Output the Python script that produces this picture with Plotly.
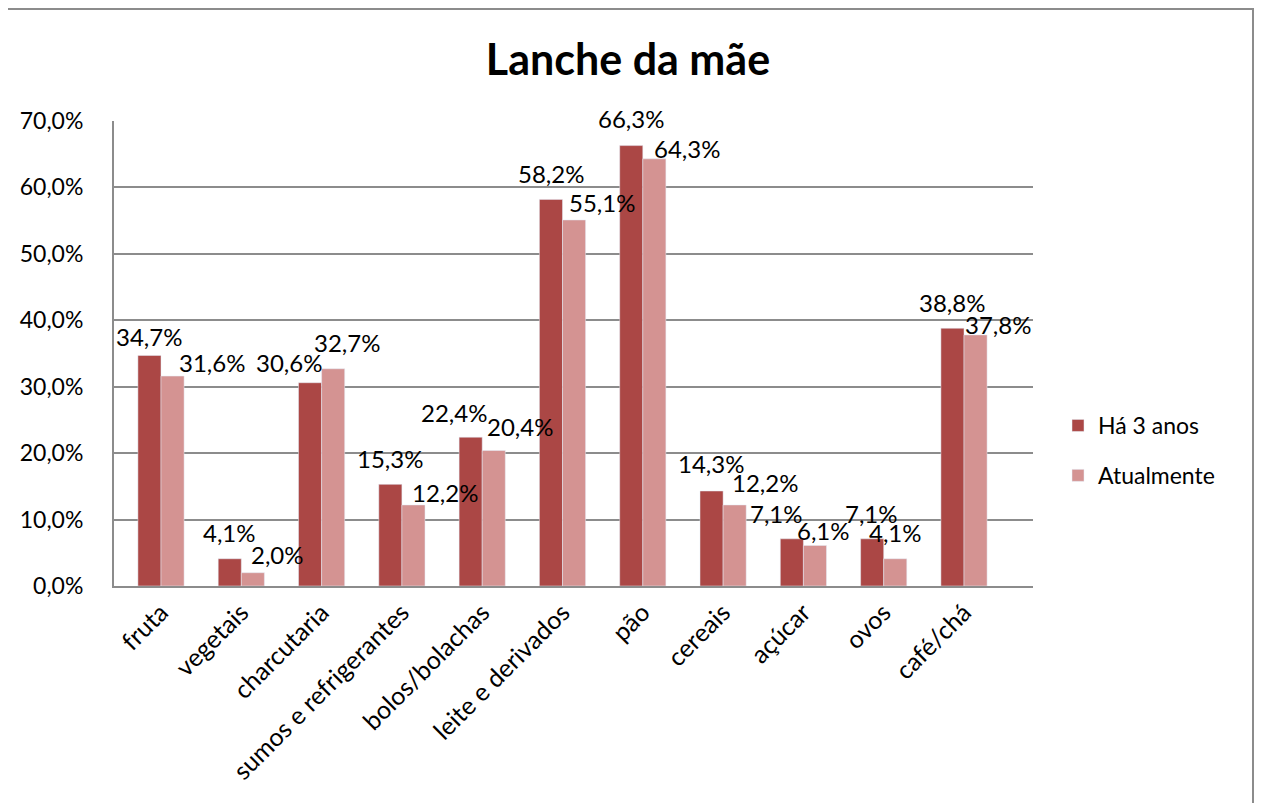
import plotly.graph_objects as go

categories = ["fruta", "vegetais", "charcutaria", "sumos e refrigerantes", "bolos/bolachas",
              "leite e derivados", "pão", "cereais", "açúcar", "ovos", "café/chá"]
ha_3_anos = [34.7, 4.1, 30.6, 15.3, 22.4, 58.2, 66.3, 14.3, 7.1, 7.1, 38.8]
atualmente = [31.6, 2.0, 32.7, 12.2, 20.4, 55.1, 64.3, 12.2, 6.1, 4.1, 37.8]
y_ticks = [0, 10, 20, 30, 40, 50, 60, 70]
y_tick_labels = ["0,0%", "10,0%", "20,0%", "30,0%", "40,0%", "50,0%", "60,0%", "70,0%"]

# label offsets (pixels) relative to each bar's top-centre, as placed in the original
dark_dx = [0, 0, -21, 0, -16, 0, 0, 0, -15, 0, 0]
dark_dy = [19, 26, 20, 26, 25, 26, 27, 28, 25, 25, 26]
light_dx = [39, 24, 13, 31, 26, 27, 32, 30, 8, 0, 22]
light_dy = [14, 18, 26, 12, 24, 17, 10, 22, 15, 26, 10]

DARK = "#AB4745"
LIGHT = "#D49392"
GRID = "#8C8C8C"
FONT = "Lato"

OFF = 8  # page body margin
W, H = 1266 - OFF, 803 - OFF
L, R, T, B = 114 - OFF, 1033 - OFF, 121 - OFF, 586 - OFF
BAR_HALF = 12

fig = go.Figure()
fig.add_trace(go.Bar(x=categories, y=ha_3_anos, name="Há 3 anos", marker_color=DARK,
                     legendgroup="a"))
fig.add_trace(go.Bar(x=categories, y=atualmente, name="Atualmente", marker_color=LIGHT,
                     legendgroup="b"))


def fmt(v):
    return f"{v:.1f}".replace(".", ",") + "%"


for i, c in enumerate(categories):
    fig.add_annotation(x=c, y=ha_3_anos[i], xref="x", yref="y", text=fmt(ha_3_anos[i]),
                       showarrow=False, xshift=-BAR_HALF + dark_dx[i], yshift=dark_dy[i],
                       yanchor="middle", xanchor="center",
                       font=dict(family=FONT, size=24, color="#000000"))
    fig.add_annotation(x=c, y=atualmente[i], xref="x", yref="y", text=fmt(atualmente[i]),
                       showarrow=False, xshift=BAR_HALF + light_dx[i], yshift=light_dy[i],
                       yanchor="middle", xanchor="center",
                       font=dict(family=FONT, size=24, color="#000000"))

pw = R - L
ph = B - T
# outer chart frame
fig.add_shape(type="rect", xref="paper", yref="paper",
              x0=(5 - OFF - L) / pw, x1=(1253 - OFF - L) / pw,
              y0=(B - 815) / ph, y1=(B - (8 - OFF) - 1) / ph,
              line=dict(color=GRID, width=2), fillcolor="rgba(0,0,0,0)", layer="below")

fig.update_layout(
    width=W, height=H,
    margin=dict(l=L, r=W - R, t=T, b=H - B, pad=0),
    paper_bgcolor="white", plot_bgcolor="white",
    barmode="group", bargap=0.425, bargroupgap=0,
    font=dict(family=FONT, size=22, color="#000000"),
    title=dict(text="<b>Lanche da mãe</b>", x=(628 - OFF) / W, xanchor="center",
               y=1 - (60 - OFF) / H, yanchor="middle", yref="container",
               font=dict(family=FONT, size=43, color="#000000")),
    legend=dict(x=(1066 - 114 - 8) / 919, xanchor="left", y=(B - (450.5 - OFF)) / ph,
                yanchor="middle",
                font=dict(family=FONT, size=23, color="#000000"),
                tracegroupgap=17, traceorder="grouped", bgcolor="rgba(0,0,0,0)"),
    showlegend=True,
)
fig.update_xaxes(showgrid=False, showline=True, linecolor=GRID, linewidth=2,
                 tickangle=-45, ticks="", tickfont=dict(family=FONT, size=25),
                 mirror=False)
fig.update_yaxes(range=[0, 70], tickvals=y_ticks, ticktext=y_tick_labels,
                 showgrid=True, gridcolor=GRID, gridwidth=1.5,
                 showline=True, linecolor=GRID, linewidth=2, ticks="",
                 tickfont=dict(family=FONT, size=23), zeroline=False, ticklabelstandoff=24)

fig.write_html("out.html")
